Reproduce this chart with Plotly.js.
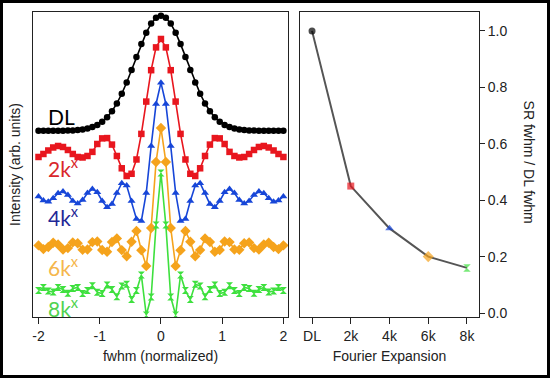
<!DOCTYPE html>
<html>
<head>
<meta charset="utf-8">
<script src="https://cdn.plot.ly/plotly-3.0.1.min.js"></script>
<style>
  html, body { margin: 0; padding: 0; background: #fff; }
  #wrap { position: relative; width: 550px; height: 378px; }
  #chart { width: 550px; height: 378px; }
  #frame { position: absolute; left: 0; top: 0; right: 0; bottom: 0; border: 3px solid #000; pointer-events: none; }
</style>
</head>
<body>
<div id="wrap"><div id="chart"></div><div id="frame"></div></div>
<script>
// ---- Left panel: normalized fwhm positions ----
const fwhmX = [-2,-1.92,-1.84,-1.76,-1.68,-1.6,-1.52,-1.44,-1.36,-1.28,-1.2,-1.12,-1.04,-0.96,-0.88,-0.8,-0.72,-0.64,-0.56,-0.48,-0.4,-0.32,-0.24,-0.16,-0.08,0,0.08,0.16,0.24,0.32,0.4,0.48,0.56,0.64,0.72,0.8,0.88,0.96,1.04,1.12,1.2,1.28,1.36,1.44,1.52,1.6,1.68,1.76,1.84,1.92,2];

// Intensity profiles (arb. units, stacked)
const intensityDL = [186.3,186.3,186.3,186.3,186.3,186.3,186.4,186.6,187.0,187.5,188.4,189.9,192.0,195.2,199.7,205.8,213.6,223.2,234.5,247.0,260.1,272.9,284.3,293.4,299.3,301.3,299.3,293.4,284.3,272.9,260.1,247.0,234.5,223.2,213.6,205.8,199.7,195.2,192.0,189.9,188.4,187.5,187.0,186.6,186.4,186.3,186.3,186.3,186.3,186.3,186.3];
const intensity2k = [160,163,166.5,169.5,171,170,167,163,160,159.5,161,165.1,173,178.6,178.9,172.4,161,148.7,141,143.2,157.5,183.1,215.4,246.8,269.6,278,269.6,246.8,215.4,183.1,157.5,143.2,141,148.7,161,172.4,178.9,178.6,173,165.1,161,159.5,160,163,167,170,171,169.5,166.5,163,160];
const intensity4k = [120.6,116.4,115.3,118.8,123.8,125.5,122,116.1,113.4,116.9,123.9,128.1,124.7,116,109.8,112.9,124,133.8,131.5,115.9,98,96,124.1,170.9,213,234.3,213,170.9,124.1,96,98,115.9,131.5,133.8,124,112.9,109.8,116,124.7,128.1,123.9,116.9,113.4,116.1,122,125.5,123.8,118.8,115.3,116.4,120.6];
const intensity6k = [71.6,67.9,70,74.3,72.5,67.5,68.9,74.6,73.7,67.3,67.5,74.9,75.5,67,65.2,75,78.6,66.9,60.7,75.2,86,66.8,51,89,155,189,155,89,51,66.8,86,75.2,60.7,66.9,78.6,75,65.2,67,75.5,74.9,67.5,67.3,73.7,74.6,68.9,67.5,72.5,74.3,70,67.9,71.6];
const intensity8k = [26.4,29.6,26,24.9,29.5,27.6,23.8,28.5,29.6,23.6,26.4,31.3,24.7,23.5,32.1,27.6,20.3,31,32.7,17.4,26.4,41.9,2,20,92,144,92,20,2,41.9,26.4,17.4,32.7,31,20.3,27.6,32.1,23.5,24.7,31.3,26.4,23.6,29.6,28.5,23.8,27.6,29.5,24.9,26,29.6,26.4];

// ---- Right panel ----
const expansions = ['DL','2k','4k','6k','8k'];
const fwhmRatio = [1.0, 0.45, 0.30, 0.20, 0.16];

const seriesNames = ['DL','2k\u02e3','4k\u02e3','6k\u02e3','8k\u02e3'];
const seriesColors = ['#000000','#e8161e','#1746d8','#f5a31c','#3ee03e'];
const labelColors = ['#000000','#d9262b','#1f2796','#f5b64c','#4fd24f'];
const symbols = ['circle','square','triangle-up','diamond','hourglass'];
const sizes = [6.5,6.5,7,8,7];
const profiles = [intensityDL, intensity2k, intensity4k, intensity6k, intensity8k];

const traces = profiles.map((p, i) => ({
  type: 'scatter', mode: 'lines+markers', x: fwhmX, y: p,
  xaxis: 'x', yaxis: 'y', name: seriesNames[i],
  line: { color: seriesColors[i], width: 1.6 },
  marker: { color: seriesColors[i], symbol: symbols[i], size: sizes[i], line: { width: 0 } },
  showlegend: false
}));

traces.push({
  type: 'scatter', mode: 'lines+markers', x: expansions, y: fwhmRatio,
  xaxis: 'x2', yaxis: 'y2',
  line: { color: '#555555', width: 2 },
  marker: { color: seriesColors, symbol: symbols, size: [7,7,7.5,8.5,7.5], line: { width: 0 } },
  showlegend: false
});

const labelY = [200, 150, 101, 51, 10];
const annotations = seriesNames.map((n, i) => ({
  xref: 'x', yref: 'y', x: -1.88, y: labelY[i],
  xanchor: 'left', yanchor: 'middle', showarrow: false,
  text: i === 0 ? 'DL' : n.slice(0, 2) + '<sup>x</sup>',
  font: { family: 'Lato, "Open Sans", sans-serif', size: 21, color: labelColors[i] }
}));
annotations.push({
  xref: 'paper', yref: 'paper', x: 0.961, y: 0.571,
  xanchor: 'center', yanchor: 'middle', showarrow: false,
  textangle: 90, text: 'SR fwhm / DL fwhm',
  font: { family: '"Liberation Sans", Arial, sans-serif', size: 14, color: '#222' }
});

const tickFont = { family: '"Liberation Sans", Arial, sans-serif', size: 14, color: '#222' };

const layout = {
  width: 550, height: 378,
  margin: { l: 0, r: 0, t: 0, b: 0 },
  paper_bgcolor: '#fff', plot_bgcolor: '#fff',
  xaxis: {
    domain: [0.06, 0.5236], range: [-2.09, 2.075],
    tickvals: [-2,-1,0,1,2], ticktext: ['-2','-1','0','1','2'],
    ticks: 'outside', ticklen: 6, tickcolor: '#222', tickfont: tickFont,
    showline: true, linecolor: '#222', linewidth: 1, mirror: true,
    showgrid: false, zeroline: false,
    title: { text: 'fwhm (normalized)', font: tickFont, standoff: 8 }
  },
  yaxis: {
    domain: [0.1614, 0.9683], range: [0, 305],
    showticklabels: false, ticks: '',
    showline: true, linecolor: '#222', linewidth: 1, mirror: true,
    showgrid: false, zeroline: false,
    title: { text: 'Intensity (arb. units)', font: tickFont, standoff: 8 }
  },
  xaxis2: {
    domain: [0.5455, 0.8709], anchor: 'y2', type: 'category',
    categoryorder: 'array', categoryarray: expansions, range: [-0.31, 4.31],
    ticks: 'outside', ticklen: 6, tickcolor: '#222', tickfont: tickFont,
    showline: true, linecolor: '#222', linewidth: 1, mirror: true,
    showgrid: false, zeroline: false,
    title: { text: 'Fourier Expansion', font: tickFont, standoff: 8 }
  },
  yaxis2: {
    domain: [0.1614, 0.9683], anchor: 'x2', side: 'right', range: [-0.014, 1.067],
    tickvals: [0, 0.2, 0.4, 0.6, 0.8, 1.0], ticktext: ['0.0','0.2','0.4','0.6','0.8','1.0'],
    ticks: 'outside', ticklen: 5, tickcolor: '#222', tickfont: tickFont,
    showline: true, linecolor: '#222', linewidth: 1, mirror: true,
    showgrid: false, zeroline: false
  },
  annotations: annotations
};

Plotly.newPlot('chart', traces, layout, { displayModeBar: false, staticPlot: true });
</script>
</body>
</html>
